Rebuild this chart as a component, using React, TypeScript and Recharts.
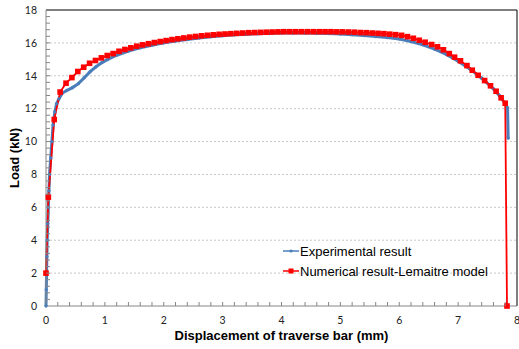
import { LineChart, Line, XAxis, YAxis, ReferenceLine, Legend } from "recharts";

// experimental curve (displacement mm, load kN)
const expX = [
  0, 0.005, 0.01, 0.015, 0.02, 0.03, 0.04, 0.05, 0.06, 0.08, 0.1, 0.12, 0.15, 0.18, 0.22, 0.28,
  0.35, 0.45, 0.55, 0.65, 0.75, 0.85, 0.95, 1.05, 1.2, 1.4, 1.6, 1.8, 2.0, 2.2, 2.4, 2.6, 2.8,
  3.0, 3.2, 3.4, 3.6, 3.8, 4.0, 4.2, 4.4, 4.6, 4.8, 5.0, 5.2, 5.4, 5.6, 5.8, 6.0, 6.2, 6.4,
  6.6, 6.8, 7.0, 7.2, 7.4, 7.6, 7.7, 7.8, 7.84, 7.85,
];
const expLoad = [
  0, 1, 2, 3, 4, 5, 6, 7, 8, 9, 10, 11, 11.8, 12.3, 12.6, 12.95,
  13.1, 13.28, 13.52, 13.88, 14.25, 14.55, 14.8, 15.0, 15.25, 15.5, 15.7, 15.86, 16.0, 16.11, 16.21, 16.3, 16.38,
  16.44, 16.49, 16.53, 16.56, 16.58, 16.6, 16.6, 16.6, 16.59, 16.57, 16.54, 16.5, 16.45, 16.39, 16.33, 16.24, 16.08, 15.88,
  15.62, 15.3, 14.88, 14.42, 13.85, 13.2, 12.8, 12.3, 12.05, 10.2,
];

// numerical result (Lemaitre model)
const numX = [
  0, 0.04, 0.14, 0.24, 0.34, 0.44, 0.54, 0.64, 0.74, 0.84, 0.94, 1.04, 1.14, 1.24, 1.34, 1.44,
  1.54, 1.64, 1.74, 1.84, 1.94, 2.04, 2.14, 2.24, 2.34, 2.44, 2.54, 2.64, 2.74, 2.84, 2.94, 3.04,
  3.14, 3.24, 3.34, 3.44, 3.54, 3.64, 3.74, 3.84, 3.94, 4.04, 4.14, 4.24, 4.34, 4.44, 4.54, 4.64,
  4.74, 4.84, 4.94, 5.04, 5.14, 5.24, 5.34, 5.44, 5.54, 5.64, 5.74, 5.84, 5.94, 6.04, 6.14, 6.24,
  6.34, 6.44, 6.55, 6.65, 6.75, 6.85, 6.94, 7.04, 7.15, 7.24, 7.34, 7.45, 7.55, 7.645, 7.73, 7.8, 7.83,
];
const numLoad = [
  2.0, 6.62, 11.34, 13.01, 13.55, 13.89, 14.26, 14.52, 14.76, 14.93, 15.09, 15.23, 15.35, 15.49, 15.6, 15.7,
  15.8, 15.88, 15.95, 16.02, 16.08, 16.14, 16.2, 16.25, 16.3, 16.35, 16.39, 16.43, 16.46, 16.49, 16.52, 16.54,
  16.56, 16.58, 16.6, 16.62, 16.63, 16.64, 16.65, 16.66, 16.67, 16.68, 16.68, 16.68, 16.68, 16.68, 16.68, 16.68,
  16.68, 16.68, 16.67, 16.67, 16.66, 16.65, 16.63, 16.62, 16.6, 16.58, 16.56, 16.53, 16.5, 16.46, 16.38, 16.28,
  16.16, 16.04, 15.9, 15.76, 15.58, 15.35, 15.13, 14.91, 14.62, 14.34, 14.03, 13.71, 13.39, 13.06, 12.66, 12.33, 0,
];

const xMajor = [0, 1, 2, 3, 4, 5, 6, 7, 8];
const yMajor = [0, 2, 4, 6, 8, 10, 12, 14, 16, 18];
const xMinorStep = 0.2;
const yMinorStep = 0.4;

const expData = expX.map((x, i) => ({ x, load: expLoad[i] }));
const numData = numX.map((x, i) => ({ x, load: numLoad[i] }));

const xTicks = Array.from({ length: Math.round(8 / xMinorStep) + 1 }, (_, k) => Math.round(k * xMinorStep * 10) / 10);
const yTicks = Array.from({ length: Math.round(18 / yMinorStep) + 1 }, (_, k) => Math.round(k * yMinorStep * 10) / 10);

const BLUE = "#4a7ebb";
const RED = "#ff0000";
const AXIS = "#868686";
const tickFont = "Lato, 'Liberation Sans', sans-serif";
const textFont = "'Liberation Sans', Arial, sans-serif";

const XTick = ({ x, y, payload }: any) => {
  const v = payload.value;
  const major = xMajor.includes(v);
  return (
    <g>
      {v > 0 && v < 8 && <line x1={x} x2={x} y1={y} y2={y - 4} stroke={AXIS} />}
      {major && (
        <text x={x} y={y + 18} textAnchor="middle" fontSize={10.5} fontFamily={tickFont} fill="#222">
          {v}
        </text>
      )}
    </g>
  );
};

const YTick = ({ x, y, payload }: any) => {
  const v = payload.value;
  const major = yMajor.includes(v);
  return (
    <g>
      {v > 0 && v < 18 && <line x1={x} x2={x + 4} y1={y} y2={y} stroke={AXIS} />}
      {major && (
        <text x={x - 9} y={y + 3.8} textAnchor="end" fontSize={10.5} fontFamily={tickFont} fill="#222">
          {v}
        </text>
      )}
    </g>
  );
};

const YTitle = ({ viewBox }: any) => {
  const cx = 19;
  const cy = viewBox.y + viewBox.height / 2;
  return (
    <text x={cx} y={cy} transform={`rotate(-90, ${cx}, ${cy})`} textAnchor="middle"
      fontSize={13} fontWeight="bold" fontFamily={textFont} fill="#000">
      Load (kN)
    </text>
  );
};

const XTitle = ({ viewBox }: any) => (
  <text x={viewBox.x + viewBox.width / 2} y={340} textAnchor="middle"
    fontSize={13} fontWeight="bold" fontFamily={textFont} fill="#000">
    Displacement of traverse bar (mm)
  </text>
);

const Square = (p: any) => (
  <rect key={`sq-${p.index}`} x={p.cx - 2.8} y={p.cy - 2.8} width={5.6} height={5.6} fill={RED} />
);

const LegendBox = () => (
  <svg width={235} height={40} style={{ display: "block" }}>
    <line x1={3} x2={19} y1={9} y2={9} stroke={BLUE} strokeWidth={1.5} />
    <circle cx={11} cy={9} r={1.6} fill={BLUE} />
    <text x={20} y={13.5} fontSize={13} fontFamily={textFont} fill="#000">Experimental result</text>
    <line x1={3} x2={19} y1={29} y2={29} stroke={RED} strokeWidth={1.5} />
    <rect x={8.5} y={26.5} width={5} height={5} fill={RED} />
    <text x={20} y={33.5} fontSize={13} fontFamily={textFont} fill="#000">Numerical result-Lemaitre model</text>
  </svg>
);

export default function App() {
  return (
    <div style={{ position: "fixed", left: 0, top: 0, width: 519, height: 349, background: "#fff" }}>
      <LineChart width={519} height={349} margin={{ top: 10, right: 2, bottom: 0, left: 0 }}>
        {yMajor.filter((v) => v > 0 && v < 18).map((v) => (
          <ReferenceLine key={v} y={v} stroke="#c8c8c8" strokeDasharray="2 2" />
        ))}
        <ReferenceLine y={18} stroke="#000" />
        <ReferenceLine x={8} stroke="#000" />
        <XAxis
          type="number"
          dataKey="x"
          domain={[0, 8]}
          ticks={xTicks}
          interval={0}
          allowDuplicatedCategory={false}
          height={43}
          stroke={AXIS}
          tickLine={false}
          tickSize={0}
          tickMargin={0}
          tick={<XTick />}
          label={<XTitle />}
        />
        <YAxis
          type="number"
          domain={[0, 18]}
          ticks={yTicks}
          interval={0}
          width={46}
          stroke={AXIS}
          tickLine={false}
          tickSize={0}
          tickMargin={0}
          tick={<YTick />}
          label={<YTitle />}
        />
        <Line
          data={expData}
          dataKey="load"
          type="linear"
          stroke={BLUE}
          strokeWidth={3}
          dot={{ r: 1.4, fill: BLUE, stroke: BLUE, strokeWidth: 0.5 }}
          isAnimationActive={false}
          name="Experimental result"
        />
        <Line
          data={numData}
          dataKey="load"
          type="linear"
          stroke={RED}
          strokeWidth={1.8}
          dot={Square}
          isAnimationActive={false}
          name="Numerical result-Lemaitre model"
        />
        <Legend
          layout="vertical"
          align="center"
          verticalAlign="middle"
          wrapperStyle={{ left: 280, top: 242, width: 235 }}
          content={<LegendBox />}
        />
      </LineChart>
    </div>
  );
}
